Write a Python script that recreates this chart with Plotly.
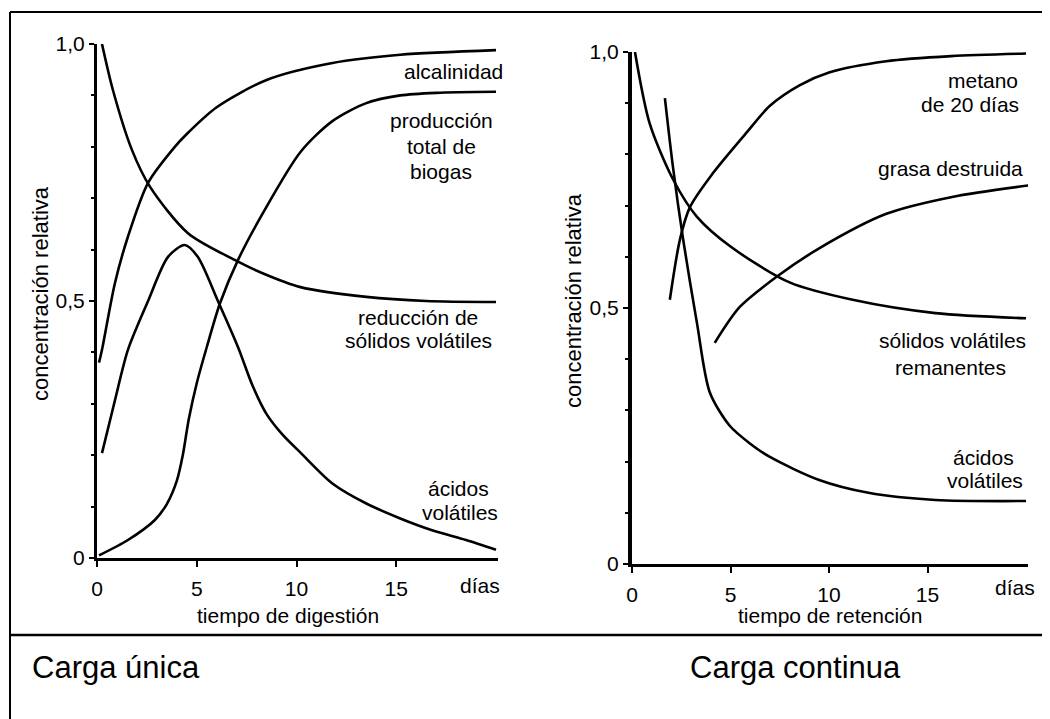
import plotly.graph_objects as go

W, H = 1050, 719
OFF = 8  # page body margin in the browser
FONT = "Liberation Sans, Arial, sans-serif"

# ---------------- data: left panel (carga única) ----------------
alc_x = [0.1, 0.25, 0.9, 1.55, 2.56, 3.9, 4.5, 6.0, 8.5, 11.8, 15.2, 20.0]
alc_y = [0.38, 0.405, 0.535, 0.625, 0.73, 0.80, 0.825, 0.877, 0.93, 0.963, 0.979, 0.988]

bio_x = [0.1, 1.55, 2.9, 3.5, 4.0, 4.3, 4.6, 5.0, 5.5, 6.17, 7.07, 8.3, 10.2, 11.8, 13.5, 15.2, 17.0, 20.0]
bio_y = [0.005, 0.035, 0.074, 0.105, 0.15, 0.20, 0.27, 0.34, 0.41, 0.496, 0.58, 0.67, 0.79, 0.85, 0.885, 0.90, 0.905, 0.907]

red_x = [0.25, 0.8, 1.75, 2.66, 4.56, 6.9, 8.3, 10.2, 13.5, 16.5, 20.0]
red_y = [1.0, 0.91, 0.794, 0.722, 0.632, 0.58, 0.554, 0.527, 0.508, 0.50, 0.498]

acl_x = [0.25, 0.9, 1.55, 2.56, 3.56, 4.4, 5.05, 6.06, 7.07, 7.8, 8.5, 9.3, 10.2, 11.8, 13.5, 15.2, 16.8, 18.5, 20.0]
acl_y = [0.204, 0.307, 0.405, 0.50, 0.586, 0.609, 0.586, 0.50, 0.41, 0.335, 0.28, 0.24, 0.205, 0.145, 0.106, 0.077, 0.054, 0.035, 0.016]

# ---------------- data: right panel (carga continua) ----------------
met_x = [1.92, 2.43, 2.94, 4.1, 5.8, 7.0, 8.5, 10.0, 12.9, 16.2, 20.0]
met_y = [0.516, 0.633, 0.697, 0.763, 0.842, 0.895, 0.935, 0.96, 0.982, 0.992, 0.997]

gra_x = [4.2, 5.47, 7.34, 9.52, 12.91, 16.25, 20.25]
gra_y = [0.432, 0.502, 0.561, 0.617, 0.684, 0.717, 0.74]

svr_x = [0.15, 0.9, 2.1, 3.3, 5.0, 8.0, 11.2, 15.4, 20.0]
svr_y = [1.0, 0.86, 0.75, 0.678, 0.62, 0.55, 0.516, 0.49, 0.48]

acr_x = [1.67, 2.08, 2.6, 3.3, 3.95, 4.96, 6.0, 7.0, 9.5, 12.0, 15.4, 20.0]
acr_y = [0.91, 0.775, 0.633, 0.47, 0.335, 0.27, 0.235, 0.209, 0.164, 0.139, 0.125, 0.123]

x_tick_vals = [0, 5, 10, 15]
x_tick_text = ["0", "5", "10", "15"]
y_tick_vals = [0, 0.5, 1.0]
y_tick_text = ["0", "0,5", "1,0"]

LINE = dict(color="black", width=2.6, shape="spline", smoothing=0.8)

fig = go.Figure()
for xs, ys in [(alc_x, alc_y), (bio_x, bio_y), (red_x, red_y), (acl_x, acl_y)]:
    fig.add_trace(go.Scatter(x=xs, y=ys, mode="lines", line=LINE, xaxis="x", yaxis="y",
                             showlegend=False, hoverinfo="skip"))
for xs, ys in [(met_x, met_y), (gra_x, gra_y), (svr_x, svr_y), (acr_x, acr_y)]:
    fig.add_trace(go.Scatter(x=xs, y=ys, mode="lines", line=LINE, xaxis="x2", yaxis="y2",
                             showlegend=False, hoverinfo="skip"))


def px(x):
    return (x - OFF) / W


def py(y):
    return 1 - (y - OFF) / H


def xaxis(d0, d1, anchor):
    return dict(domain=[px(d0), px(d1)], range=[0, 20.1], anchor=anchor, automargin=False,
                showgrid=False, zeroline=False, showline=True, linecolor="black", linewidth=3,
                ticks="outside", ticklen=6, tickwidth=2, tickcolor="black",
                tickvals=x_tick_vals, ticktext=x_tick_text, ticklabelstandoff=4,
                tickfont=dict(family=FONT, size=21, color="black"), fixedrange=True)


def yaxis(d0, d1, anchor, lw):
    return dict(domain=[py(d0), py(d1)], range=[0, 1.0], anchor=anchor, automargin=False,
                showgrid=False, zeroline=False, showline=True, linecolor="black", linewidth=lw,
                ticks="outside", ticklen=5, tickwidth=2, tickcolor="black",
                tickvals=y_tick_vals, ticktext=y_tick_text,
                minor=dict(dtick=0.1, ticks="outside", ticklen=3, tickwidth=1.5, tickcolor="black"),
                tickfont=dict(family=FONT, size=21, color="black"), fixedrange=True)


ann = []


def text(t, x, y, size=21, xanchor="center", angle=0):
    ann.append(dict(text=t, x=px(x), y=py(y), xref="paper", yref="paper", showarrow=False,
                    xanchor=xanchor, yanchor="middle", textangle=angle,
                    font=dict(family=FONT, size=size, color="black")))


# left panel labels
text("alcalinidad", 505, 72, xanchor="right")
text("producción", 441, 120)
text("total de", 441, 147)
text("biogas", 441, 171)
text("reducción de", 418, 317)
text("sólidos volátiles", 418, 340)
text("ácidos", 458, 488)
text("volátiles", 460, 512)
text("días", 480, 585)
text("tiempo de digestión", 288, 615)
text("concentración relativa", 40, 294, size=22, angle=-90)
# right panel labels
text("metano", 983, 80)
text("de 20 días", 970, 104)
text("grasa destruida", 950, 168)
text("sólidos volátiles", 952, 340)
text("remanentes", 950, 367)
text("ácidos", 983, 457)
text("volátiles", 985, 480)
text("días", 1015, 587)
text("tiempo de retención", 830, 615)
text("concentración relativa", 573, 301, size=22, angle=-90)
# captions
text("Carga única", 30, 667, size=31, xanchor="left")
text("Carga continua", 688, 667, size=31, xanchor="left")

shapes = [
    dict(type="line", xref="paper", yref="paper", x0=px(10), x1=px(1062), y0=py(12), y1=py(12),
         line=dict(color="black", width=2)),
    dict(type="line", xref="paper", yref="paper", x0=px(10), x1=px(10), y0=py(12), y1=py(730),
         line=dict(color="black", width=2)),
    dict(type="line", xref="paper", yref="paper", x0=px(10), x1=px(1062), y0=py(635), y1=py(635),
         line=dict(color="black", width=2.5)),
]

fig.update_layout(
    width=W, height=H, margin=dict(l=0, r=0, t=0, b=0, pad=0, autoexpand=False),
    paper_bgcolor="white", plot_bgcolor="white",
    xaxis=xaxis(97, 498, "y"), yaxis=yaxis(558, 44, "x", 3),
    xaxis2=xaxis(632, 1028, "y2"), yaxis2=yaxis(564, 52, "x2", 4),
    annotations=ann, shapes=shapes, showlegend=False,
)

fig.write_html("out.html")
